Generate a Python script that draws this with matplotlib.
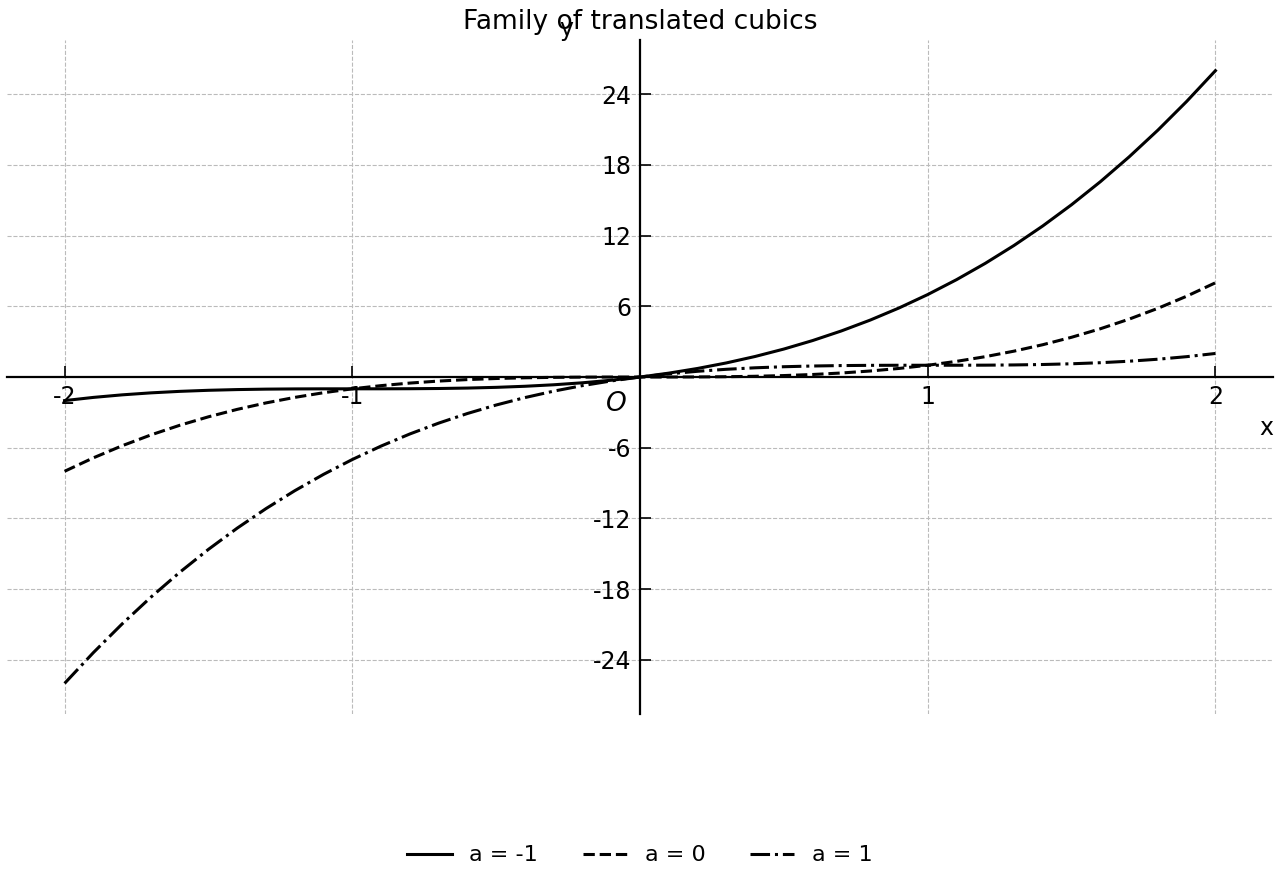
import matplotlib
matplotlib.use("Agg")
import matplotlib.pyplot as plt

plt.rcParams['axes.unicode_minus'] = False

x_vals = [-2.0, -1.9, -1.8, -1.7, -1.6, -1.5, -1.4, -1.3, -1.2, -1.1, -1.0,
          -0.9, -0.8, -0.7, -0.6, -0.5, -0.4, -0.3, -0.2, -0.1, 0.0,
          0.1, 0.2, 0.3, 0.4, 0.5, 0.6, 0.7, 0.8, 0.9, 1.0,
          1.1, 1.2, 1.3, 1.4, 1.5, 1.6, 1.7, 1.8, 1.9, 2.0]

y_a_neg1 = [-2.0, -1.729, -1.512, -1.343, -1.216, -1.125, -1.064, -1.027, -1.008, -1.001, -1.0,
            -0.999, -0.992, -0.973, -0.936, -0.875, -0.784, -0.657, -0.488, -0.271, 0.0,
            0.331, 0.728, 1.197, 1.744, 2.375, 3.096, 3.913, 4.832, 5.859, 7.0,
            8.261, 9.648, 11.167, 12.824, 14.625, 16.576, 18.683, 20.952, 23.389, 26.0]

y_a_0 = [-8.0, -6.859, -5.832, -4.913, -4.096, -3.375, -2.744, -2.197, -1.728, -1.331, -1.0,
         -0.729, -0.512, -0.343, -0.216, -0.125, -0.064, -0.027, -0.008, -0.001, 0.0,
         0.001, 0.008, 0.027, 0.064, 0.125, 0.216, 0.343, 0.512, 0.729, 1.0,
         1.331, 1.728, 2.197, 2.744, 3.375, 4.096, 4.913, 5.832, 6.859, 8.0]

y_a_1 = [-26.0, -23.389, -20.952, -18.683, -16.576, -14.625, -12.824, -11.167, -9.648, -8.261, -7.0,
         -5.859, -4.832, -3.913, -3.096, -2.375, -1.744, -1.197, -0.728, -0.331, 0.0,
         0.271, 0.488, 0.657, 0.784, 0.875, 0.936, 0.973, 0.992, 0.999, 1.0,
         1.001, 1.008, 1.027, 1.064, 1.125, 1.216, 1.343, 1.512, 1.729, 2.0]

series_labels = ["a = -1", "a = 0", "a = 1"]
x_ticks = [-2, -1, 1, 2]
x_tick_labels = ["-2", "-1", "1", "2"]
y_ticks = [-24, -18, -12, -6, 6, 12, 18, 24]
y_tick_labels = ["-24", "-18", "-12", "-6", "6", "12", "18", "24"]

fig = plt.figure(figsize=(12.8, 8.8), dpi=100)
ax = fig.add_axes([0.0055, 0.1886, 0.989, 0.7659])

ax.plot(x_vals, y_a_neg1, color='black', lw=2.2, ls='-', label=series_labels[0])
ax.plot(x_vals, y_a_0, color='black', lw=2.2, ls='--', label=series_labels[1])
ax.plot(x_vals, y_a_1, color='black', lw=2.2, ls='-.', label=series_labels[2])

ax.set_xlim(-2.2, 2.2)
ax.set_ylim(-28.6, 28.6)

for s in ['top', 'right']:
    ax.spines[s].set_visible(False)
ax.spines['left'].set_position(('data', 0))
ax.spines['bottom'].set_position(('data', 0))
ax.spines['left'].set_linewidth(1.6)
ax.spines['bottom'].set_linewidth(1.6)

ax.set_xticks(x_ticks)
ax.set_xticklabels(x_tick_labels)
ax.set_yticks(y_ticks)
ax.set_yticklabels(y_tick_labels)
ax.tick_params(direction='in', length=8, width=1.2, labelsize=17, pad=6)

ax.grid(True, ls='--', color='#bbbbbb', lw=0.8)

ax.text(-0.045, -1.2, "O", fontsize=19, fontstyle='italic', ha='right', va='top')
ax.text(2.2, -3.3, "x", fontsize=17, ha='right', va='top')
ax.text(-0.255, 29.5, "y", fontsize=17, ha='center', va='center')

ax.set_title("Family of translated cubics", fontsize=19, pad=8)

fig.legend(loc='lower center', ncol=3, frameon=False, fontsize=16,
           bbox_to_anchor=(0.5, -0.006))

fig.savefig("out.png", dpi=100)
